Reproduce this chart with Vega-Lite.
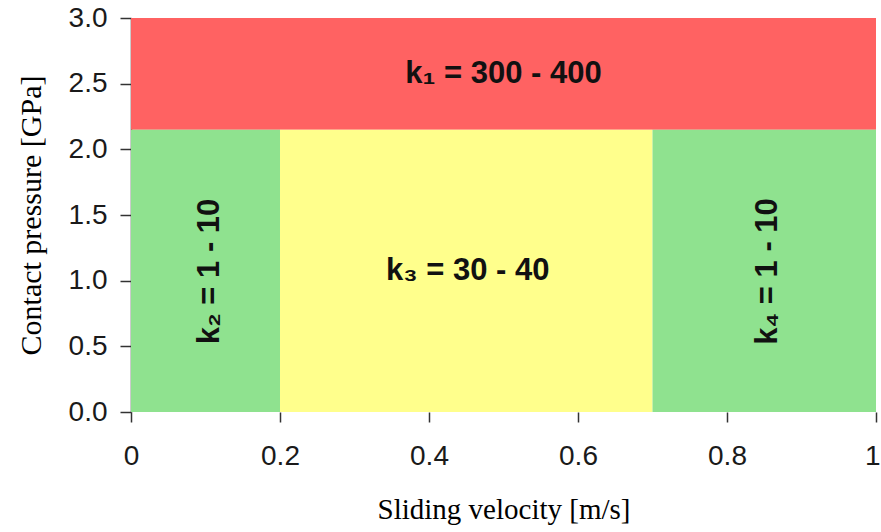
{
  "$schema": "https://vega.github.io/schema/vega-lite/v6.json",
  "width": 745,
  "height": 394,
  "autosize": "none",
  "padding": {"left": 131, "top": 18, "right": 5, "bottom": 120},
  "background": "white",
  "config": {"view": {"stroke": null}},
  "layer": [
    {
      "data": {"values": [
        {"region": "k1", "v0": 0, "v1": 1, "p0": 2.15, "p1": 3.0},
        {"region": "k2", "v0": 0, "v1": 0.2, "p0": 0, "p1": 2.15},
        {"region": "k3", "v0": 0.2, "v1": 0.7, "p0": 0, "p1": 2.15},
        {"region": "k4", "v0": 0.7, "v1": 1, "p0": 0, "p1": 2.15}
      ]},
      "mark": {"type": "rect"},
      "encoding": {
        "x": {"field": "v0", "type": "quantitative", "scale": {"domain": [0, 1], "nice": false},
          "axis": {"title": "Sliding velocity [m/s]", "values": [0, 0.2, 0.4, 0.6, 0.8, 1], "format": "~g",
            "domain": false, "grid": false, "tickColor": "#333", "tickSize": 10, "tickWidth": 1.5,
            "labelFlush": false, "labelOverlap": false,
            "labelAlign": {"condition": {"test": "datum.value == 1", "value": "right"}, "value": "center"},
            "labelOffset": {"condition": {"test": "datum.value == 1", "value": 4}, "value": 0},
            "labelFont": "Liberation Sans", "labelFontSize": 28, "labelColor": "#1a1a1a", "labelPadding": 20,
            "titleFont": "Liberation Serif", "titleFontSize": 29, "titleFontWeight": "normal", "titleColor": "#000", "titlePadding": 25}},
        "x2": {"field": "v1"},
        "y": {"field": "p0", "type": "quantitative", "scale": {"domain": [0, 3], "nice": false},
          "axis": {"title": "Contact pressure [GPa]", "values": [0, 0.5, 1, 1.5, 2, 2.5, 3], "format": ".1f",
            "domain": true, "domainColor": "#333", "domainWidth": 1.5, "grid": false, "tickColor": "#333", "tickSize": 11, "tickWidth": 1.5,
            "labelFlush": false, "labelOverlap": false,
            "labelFont": "Liberation Sans", "labelFontSize": 28, "labelColor": "#1a1a1a", "labelPadding": 13,
            "titleFont": "Liberation Serif", "titleFontSize": 30, "titleFontWeight": "normal", "titleColor": "#000", "titlePadding": 22}},
        "y2": {"field": "p1"},
        "color": {"field": "region", "type": "nominal", "legend": null,
          "scale": {"domain": ["k1", "k2", "k3", "k4"], "range": ["#ff6262", "#8fe28f", "#ffff8c", "#8fe28f"]}}
      }
    },
    {
      "data": {"values": [
        {"label": "k₁ = 300 - 400", "v": 0.5, "p": 2.575, "rot": 0},
        {"label": "k₃ = 30 - 40", "v": 0.452, "p": 1.07, "rot": 0},
        {"label": "k₂ = 1 - 10", "v": 0.106, "p": 1.07, "rot": 270},
        {"label": "k₄ = 1 - 10", "v": 0.855, "p": 1.07, "rot": 270}
      ]},
      "mark": {"type": "text", "font": "Liberation Sans", "fontWeight": "bold", "fontSize": 31, "color": "#111", "align": "center", "baseline": "middle"},
      "encoding": {
        "x": {"field": "v", "type": "quantitative"},
        "y": {"field": "p", "type": "quantitative"},
        "text": {"field": "label"},
        "angle": {"field": "rot", "type": "quantitative", "scale": null}
      }
    }
  ]
}
